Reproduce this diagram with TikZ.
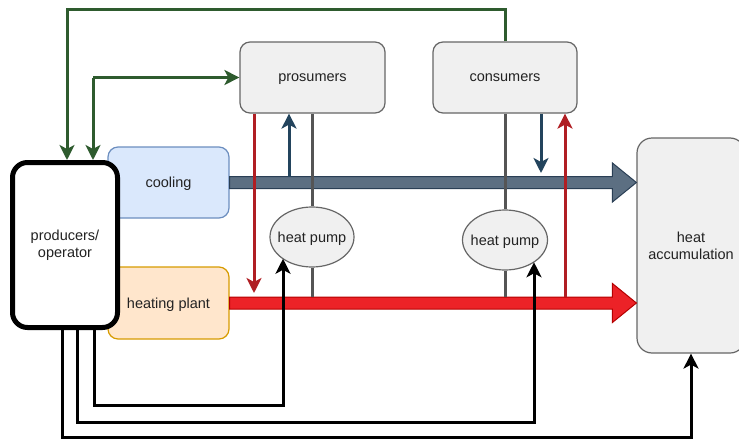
\documentclass[tikz,border=0pt]{standalone}
\usepackage{fontspec}
\setmainfont{Liberation Sans}
\usetikzlibrary{arrows.meta,shapes.geometric,calc}
\definecolor{boxfill}{HTML}{F0F0F0}
\definecolor{boxline}{HTML}{666666}
\definecolor{gline}{HTML}{2E5B2E}
\definecolor{navy}{HTML}{23445D}
\definecolor{redthin}{HTML}{B01E23}
\definecolor{pipegrey}{HTML}{555555}
\definecolor{coolfill}{HTML}{5C6F82}
\definecolor{coolline}{HTML}{2A3F55}
\definecolor{hotfill}{HTML}{EC2227}
\definecolor{hotline}{HTML}{B40000}
\definecolor{bluebox}{HTML}{DAE8FC}
\definecolor{blueline}{HTML}{6C8EBF}
\definecolor{orangebox}{HTML}{FFE6CC}
\definecolor{orangeline}{HTML}{D79B00}
\definecolor{txt}{HTML}{222222}
\tikzset{
  lbl/.style={font=\fontsize{14.5}{17}\selectfont, text=txt, align=center, inner sep=0pt},
  onelbl/.style={lbl, text depth=0pt},
  greybox/.style={draw=boxline, fill=boxfill, line width=1.2pt, rounded corners=10pt},
  pumpnode/.style={ellipse, draw=boxline, fill=boxfill, line width=1.2pt, minimum width=84pt, minimum height=60pt, inner sep=0pt},
  tipS/.style={-{Stealth[length=15pt,width=15pt,inset=4pt]}},
  greenline/.style={draw=gline, line width=3pt},
  blackline/.style={draw=black, line width=3pt},
  navyline/.style={draw=navy, line width=3pt},
  redline/.style={draw=redthin, line width=3pt},
  greyline/.style={draw=pipegrey, line width=3pt},
  coolpipe/.style={fill=coolfill, draw=coolline, line width=1pt},
  hotpipe/.style={fill=hotfill, draw=hotline, line width=1pt},
}
\begin{document}
\begin{tikzpicture}[x=1pt,y=-1pt]
\useasboundingbox (0,0) rectangle (739,439);
\clip (0,0) rectangle (739,439);

% nodes
\node[greybox, onelbl, minimum width=145pt, minimum height=71pt] (pros) at (312.5,77.5) {prosumers};
\node[greybox, onelbl, minimum width=144pt, minimum height=71pt] (cons) at (505,77.5) {consumers};
\node[onelbl, draw=blueline, fill=bluebox, line width=1.2pt, rounded corners=10pt, minimum width=121pt, minimum height=71pt] (cool) at (168.5,182.5) {cooling};
\node[onelbl, draw=orangeline, fill=orangebox, line width=1.2pt, rounded corners=10pt, minimum width=121pt, minimum height=72pt] (heat) at (168.5,303) {heating plant};
\node[lbl, draw=black, fill=white, line width=5pt, rounded corners=15pt, minimum width=105pt, minimum height=165pt] (prod) at (65,245) {producers/\\operator};
\node[greybox, lbl, rounded corners=15pt, minimum width=108pt, minimum height=215pt] (hacc) at (691,245.5) {heat\\accumulation};
\node[pumpnode, label={[onelbl]center:heat pump}] (hp1) at (312,237) {};
\node[pumpnode, minimum width=85pt, label={[onelbl]center:heat pump}] (hp2) at (505,240) {};

% pipe arrows
\coordinate (ctip) at (hacc.west |- cool.east);
\coordinate (htip) at (hacc.west |- heat.east);
\filldraw[coolpipe] ($(cool.east)+(0,-6)$) -- ($(ctip)+(-24,-6)$) -- ($(ctip)+(-24,-19.5)$) -- (ctip)
  -- ($(ctip)+(-24,19.5)$) -- ($(ctip)+(-24,6)$) -- ($(cool.east)+(0,6)$) -- cycle;
\filldraw[hotpipe] ($(heat.east)+(0,-6)$) -- ($(htip)+(-24,-6)$) -- ($(htip)+(-24,-19.5)$) -- (htip)
  -- ($(htip)+(-24,19.5)$) -- ($(htip)+(-24,6)$) -- ($(heat.east)+(0,6)$) -- cycle;
\coordinate (ctop) at ($(cool.east)+(0,-6)$);
\coordinate (htop) at ($(heat.east)+(0,-6)$);

% grey pipes to heat pumps
\draw[greyline] (hp1.north |- pros.south) -- (hp1.north);
\draw[greyline] (hp1.south) -- (hp1.south |- htop);
\draw[greyline] (hp2.north |- cons.south) -- (hp2.north);
\draw[greyline] (hp2.south) -- (hp2.south |- htop);

% thin red and navy arrows
\coordinate (xr1) at (254,293);
\coordinate (xn1) at (289,0);
\coordinate (xn2) at (541,173);
\coordinate (xr2) at (565,0);
\draw[redline, tipS] (pros.south -| xr1) -- (xr1);
\draw[navyline, tipS] (ctop -| xn1) -- (pros.south -| xn1);
\draw[navyline, tipS] (cons.south -| xn2) -- (xn2);
\draw[redline, tipS] (htop -| xr2) -- (cons.south -| xr2);

% green control lines
\coordinate (g1) at (67,9);
\coordinate (g2) at (93,78);
\draw[greenline, tipS] (cons.north) |- (g1) -- (g1 |- prod.north);
\draw[greenline, tipS] (g2 |- pros.west) -- (pros.west);
\draw[greenline, tipS] (g2 |- pros.west) -- (g2 |- prod.north);

% black control lines
\coordinate (b1) at (94,405);
\coordinate (b1c) at (283,405);
\coordinate (b2) at (77,422);
\coordinate (b2c) at (534,422);
\coordinate (b3) at (62,437);
\draw[blackline, tipS] (b1 |- prod.south) -- (b1) -- (b1c) -- (b1c |- hp1.216.8);
\draw[blackline, tipS] (b2 |- prod.south) -- (b2) -- (b2c) -- (b2c |- hp2.323.2);
\draw[blackline, tipS] (b3 |- prod.south) -- (b3) -- (b3 -| hacc.south) -- (hacc.south);
\end{tikzpicture}
\end{document}
